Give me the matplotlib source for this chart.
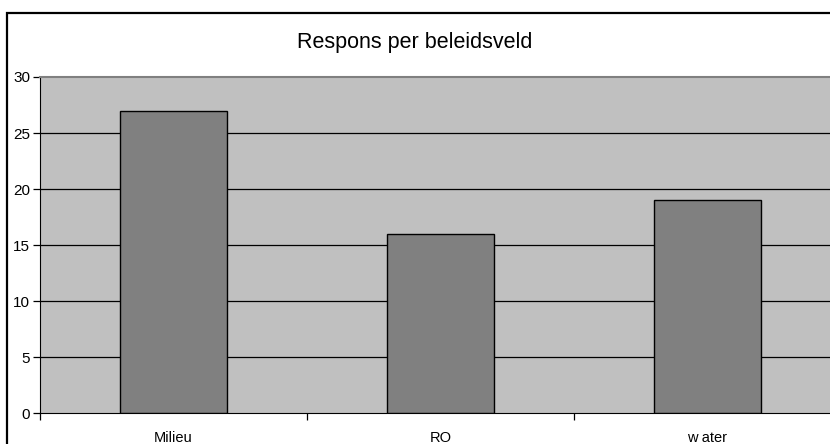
import numpy as np
import matplotlib.pyplot as plt
from matplotlib.patches import Rectangle

# data
categories = ["Milieu", "RO", "w ater"]
responses = [27, 16, 19]
y_ticks = [0, 5, 10, 15, 20, 25, 30]

plt.rcParams['font.family'] = ['Liberation Sans', 'DejaVu Sans']

fig = plt.figure(figsize=(8.3, 4.44), dpi=100)

# outer chart border (runs off right and bottom edges like the reference)
fig.patches.append(Rectangle((7 / 830, -0.05), 1.0, (444 - 13) / 444 + 0.05,
                             transform=fig.transFigure, fill=False,
                             edgecolor='black', linewidth=1.6, zorder=0))

ax = fig.add_axes([40 / 830, 31 / 444, 801 / 830, 336 / 444])
ax.set_facecolor('#C0C0C0')

x = np.arange(len(categories))
ax.bar(x, responses, width=0.4, color='#808080', edgecolor='black',
       linewidth=1.0, zorder=3)

ax.set_xlim(-0.5, len(categories) - 0.5)
ax.set_ylim(0, 30)
ax.set_yticks(y_ticks)
ax.set_yticklabels([str(v) for v in y_ticks], fontsize=11)

# grid lines
for v in y_ticks[1:-1]:
    ax.axhline(v, color='black', linewidth=0.9, zorder=1)

# category labels centered, ticks between categories
ax.set_xticks(np.arange(len(categories) + 1) - 0.5)
ax.set_xticklabels([])
ax.set_xticks(x, minor=True)
ax.set_xticklabels(categories, minor=True, fontsize=10.5)
ax.tick_params(axis='x', which='minor', length=0, pad=13)
ax.tick_params(axis='x', which='major', length=5, direction='out', width=0.9)
ax.tick_params(axis='y', length=5, direction='out', width=0.9, pad=2)

ax.spines['left'].set_color('black')
ax.spines['bottom'].set_color('black')
ax.spines['top'].set_color('#808080')
ax.spines['top'].set_linewidth(1.5)
ax.spines['right'].set_visible(False)

fig.text(0.5, (444 - 48) / 444, "Respons per beleidsveld", ha='center',
         va='baseline', fontsize=15.5)

fig.savefig('out.png', dpi=100)
